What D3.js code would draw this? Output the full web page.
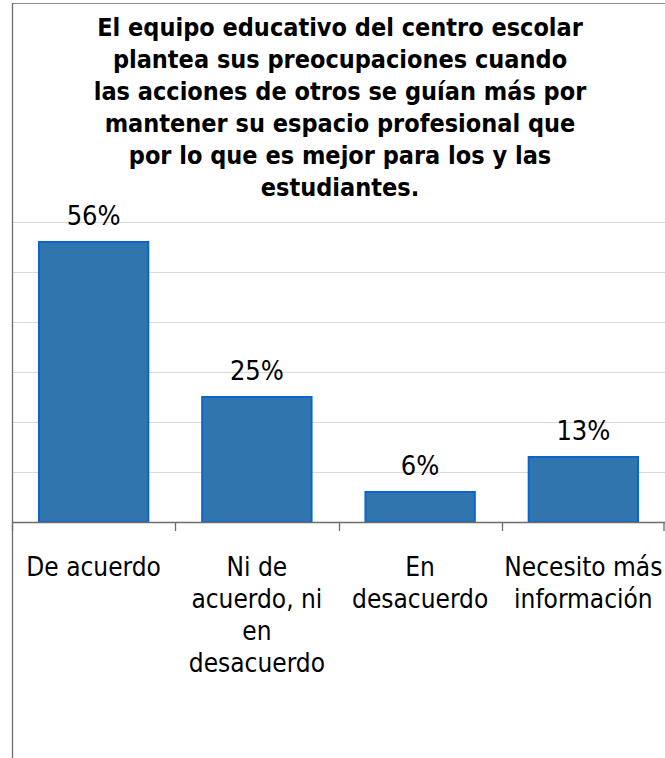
<!DOCTYPE html>
<html>
<head>
<meta charset="utf-8">
<script src="https://cdn.jsdelivr.net/npm/d3@7"></script>
<style>
  html, body { margin: 0; padding: 0; background: #fff; }
  svg { display: block; }
</style>
</head>
<body>
<svg id="chart" width="665" height="758"></svg>
<script>
const categories = ["De acuerdo", "Ni de acuerdo, ni en desacuerdo", "En desacuerdo", "Necesito más información"];
const categoryLines = [["De acuerdo"], ["Ni de", "acuerdo, ni", "en", "desacuerdo"], ["En", "desacuerdo"], ["Necesito más", "información"]];
const values = [56, 25, 6, 13];
const valueLabels = ["56%", "25%", "6%", "13%"];
const gridTicks = [0, 10, 20, 30, 40, 50, 60];
const titleLines = [
  "El equipo educativo del centro escolar",
  "plantea sus preocupaciones cuando",
  "las acciones de otros se guían más por",
  "mantener su espacio profesional que",
  "por lo que es mejor para los y las",
  "estudiantes."
];

(function () {
const FONT = "'DejaVu Sans Condensed', 'DejaVu Sans', sans-serif";
const svg = d3.select("#chart");
const W = 665, H = 758;
const plotLeft = 12, plotRight = 665, plotTop = 222, base = 522;

// frame
svg.append("line").attr("x1", plotLeft).attr("x2", W).attr("y1", 3.5).attr("y2", 3.5)
  .attr("stroke", "#8c8c8c").attr("stroke-width", 1.2);

const x = d3.scaleBand().domain(categories).range([plotLeft, plotRight]).paddingInner(0.33).paddingOuter(0.165);
const y = d3.scaleLinear().domain([0, 60]).range([base, plotTop]);

// gridlines
svg.append("g").selectAll("line").data(gridTicks.filter(d => d > 0)).join("line")
  .attr("x1", plotLeft).attr("x2", W)
  .attr("y1", d => Math.round(y(d)) + 0.5).attr("y2", d => Math.round(y(d)) + 0.5)
  .attr("stroke", "#d9d9d9").attr("stroke-width", 1.2);

// bars
svg.append("g").selectAll("rect").data(values).join("rect")
  .attr("x", (d, i) => x(categories[i]))
  .attr("width", x.bandwidth())
  .attr("y", d => y(d))
  .attr("height", d => base - y(d))
  .attr("fill", "#3175af")
  .attr("stroke", "#0a66cc")
  .attr("stroke-width", 2);

// x axis
const xEdge = d3.scaleLinear().domain([0, categories.length]).range([plotLeft, plotRight]);
const axisG = svg.append("g");
axisG.append("line").attr("x1", plotLeft).attr("x2", W).attr("y1", base + 0.5).attr("y2", base + 0.5)
  .attr("stroke", "#6e6e6e").attr("stroke-width", 1.3);
axisG.selectAll("line.tick").data(d3.range(categories.length + 1)).join("line")
  .attr("class", "tick")
  .attr("x1", d => Math.min(Math.round(xEdge(d)) + 0.5, W - 1)).attr("x2", d => Math.min(Math.round(xEdge(d)) + 0.5, W - 1))
  .attr("y1", base).attr("y2", base + 9)
  .attr("stroke", "#6e6e6e").attr("stroke-width", 1.3);

// y axis line / left frame
svg.append("line").attr("x1", plotLeft + 0.5).attr("x2", plotLeft + 0.5).attr("y1", 3).attr("y2", H)
  .attr("stroke", "#6e6e6e").attr("stroke-width", 1.3);

// value labels
svg.append("g").selectAll("text").data(values).join("text")
  .attr("x", (d, i) => x(categories[i]) + x.bandwidth() / 2)
  .attr("y", d => y(d) - 17)
  .attr("text-anchor", "middle")
  .attr("font-family", FONT)
  .attr("font-size", 27)
  .attr("fill", "#000")
  .text((d, i) => valueLabels[i]);

// category labels
const catG = svg.append("g");
categoryLines.forEach((lines, i) => {
  const cx = x(categories[i]) + x.bandwidth() / 2;
  const t = catG.append("text")
    .attr("text-anchor", "middle")
    .attr("font-family", FONT)
    .attr("font-size", 26)
    .attr("fill", "#000");
  lines.forEach((ln, j) => {
    t.append("tspan").attr("x", cx).attr("y", 576 + j * 32).text(ln);
  });
});

// title
const tt = svg.append("text")
  .attr("text-anchor", "middle")
  .attr("font-family", FONT)
  .attr("font-size", 25)
  .attr("font-weight", "bold")
  .attr("fill", "#000");
titleLines.forEach((ln, j) => {
  tt.append("tspan").attr("x", 340).attr("y", 36 + j * 32).text(ln);
});
})();
</script>
</body>
</html>
